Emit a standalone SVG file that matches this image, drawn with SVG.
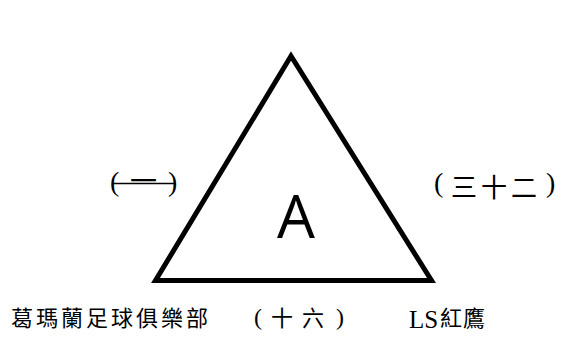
<svg xmlns="http://www.w3.org/2000/svg" width="562" height="338" viewBox="0 0 562 338">
<style>
.cjk{font-family:"Liberation Serif","Noto Sans CJK TC",serif;fill:#000;}
.par{font-family:"Liberation Serif","Noto Sans CJK TC",serif;fill:#000;}
.big{font-family:"Open Sans","Liberation Sans",sans-serif;font-size:60px;fill:#000;}
</style>
<rect width="562" height="338" fill="#fff"/>
<g id="node-A">
<polygon points="291,56 155.5,280.5 431.5,280.5" fill="#fff" stroke="#000" stroke-width="5" stroke-linejoin="miter"/>
<text class="big" x="296" y="238" text-anchor="middle">A</text>
</g>
<g id="label-left">
<line x1="112" y1="183.5" x2="176" y2="183.5" stroke="#000" stroke-width="1.3"/>
<text class="cjk" font-size="27"><tspan class="par" font-size="28" x="110" y="191">(</tspan><tspan x="130" y="191">一</tspan><tspan class="par" font-size="28" x="168" y="191">)</tspan></text>
</g>
<g id="label-right">
<text class="cjk" font-size="26"><tspan class="par" font-size="28" x="434" y="192">(</tspan><tspan x="451" y="197" letter-spacing="4">三十二</tspan><tspan class="par" font-size="28" x="546" y="192">)</tspan></text>
</g>
<g id="label-bottom-left">
<text class="cjk" font-size="22" x="11" y="326" letter-spacing="3">葛瑪蘭足球俱樂部</text>
</g>
<g id="label-bottom-mid">
<text class="cjk" font-size="22"><tspan class="par" font-size="24" x="254" y="325">(</tspan><tspan x="271" y="326" letter-spacing="9">十六</tspan><tspan class="par" font-size="24" x="336" y="325">)</tspan></text>
</g>
<g id="label-bottom-right">
<text class="cjk" font-size="22"><tspan font-size="25" x="409" y="328">LS</tspan><tspan x="440" y="326" letter-spacing="1">紅鷹</tspan></text>
</g>
</svg>
